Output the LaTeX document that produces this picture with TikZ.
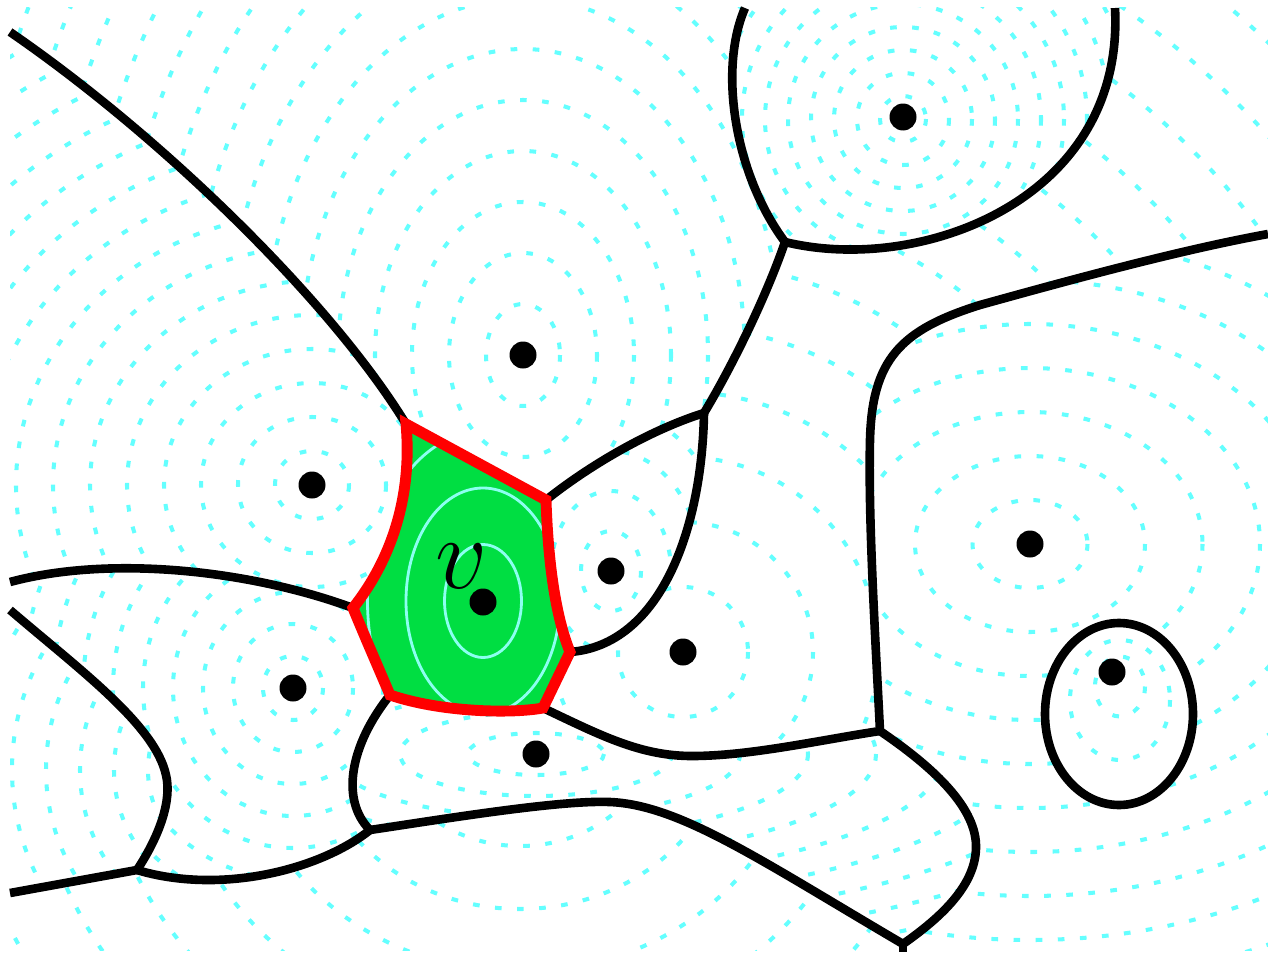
\documentclass[tikz,border=0pt]{standalone}
\definecolor{ringcyan}{RGB}{100,255,255}
\definecolor{vringcol}{RGB}{140,255,240}
\definecolor{cellgreen}{RGB}{0,222,66}
\tikzset{
  dashring/.style={ringcyan, line width=2.3pt, dash pattern=on 3.8pt off 8.8pt},
  vring/.style={vringcol, line width=1.6pt},
  bd/.style={black, line width=4.9pt, line join=round},
  rd/.style={red, line width=6.2pt, line join=miter},
  dot/.style={circle, fill=black, inner sep=0pt, minimum size=0.54cm},
}
\begin{document}
\begin{tikzpicture}[x=0.02cm,y=-0.02cm]
\useasboundingbox (0,0) rectangle (1268,957);
% vertices
\coordinate (A) at (406,424);
\coordinate (B) at (546,500);
\coordinate (C) at (570,652);
\coordinate (D) at (543,708);
\coordinate (E) at (390,695);
\coordinate (F) at (353,608);
\coordinate (G) at (704,413);
\coordinate (H) at (785,242);
\coordinate (I) at (880,731);
\coordinate (J) at (370,830);
\coordinate (K) at (137,870);
\coordinate (M) at (903,944);
\coordinate (P1) at (10,32);
\coordinate (T1) at (745,8);
\coordinate (T2) at (1115,8);
\coordinate (R1) at (1268,234);
\coordinate (L1) at (10,582);
\coordinate (L2) at (10,610);
\coordinate (L3) at (10,893);
\coordinate (Mb) at (903,952);

% ---------- level-set rings, each clipped to its cell ----------
\begin{scope}
\clip (10,7) rectangle (1268,950);
 % site (523,355)
 \begin{scope}
  \clip (P1) .. controls (160,135) and (330,300) .. (A) -- (B) .. controls (590,465) and (650,430) .. (G) .. controls (730,370) and (765,300) .. (H) .. controls (735,175) and (718,70) .. (T1) -- (745,-60) -- (-60,-60) -- (-60,32) -- cycle;
  \foreach \k in {1,...,16} \draw[dashring] (523,355) ellipse ({37*\k} and {51*\k});
 \end{scope}
 % site (312,485)
 \begin{scope}
  \clip (P1) .. controls (160,135) and (330,300) .. (A) .. controls (412,490) and (395,555) .. (F) .. controls (250,570) and (110,555) .. (L1) -- (-60,582) -- (-60,32) -- cycle;
  \foreach \k in {1,...,16} \draw[dashring] (312,485) ellipse ({37*\k} and {34*\k});
 \end{scope}
 % site (903,117)
 \begin{scope}
  \clip (H) .. controls (735,175) and (718,70) .. (T1) -- (745,-60) -- (1115,-60) -- (T2) .. controls (1125,200) and (920,275) .. (H) -- cycle;
  \foreach \k in {1,...,11} \draw[dashring] (903,119) circle ({23*\k});
 \end{scope}
 % site (611,571)
 \begin{scope}
  \clip (B) .. controls (590,465) and (650,430) .. (G) .. controls (702,530) and (660,645) .. (C) .. controls (555,615) and (548,560) .. (B) -- cycle;
  \foreach \k in {1,...,6} \draw[dashring] (611,571) ellipse ({30*\k} and {40*\k});
 \end{scope}
 % site (683,652)
 \begin{scope}
  \clip (G) .. controls (730,370) and (765,300) .. (H) .. controls (920,275) and (1125,200) .. (T2) -- (1115,-60) -- (1330,-60) -- (1330,234) -- (R1) .. controls (1180,250) and (1070,280) .. (980,305) .. controls (900,330) and (872,360) .. (870,440) .. controls (868,520) and (876,650) .. (I) .. controls (820,740) and (750,756) .. (692,756) .. controls (640,756) and (600,735) .. (D) -- (C) .. controls (660,645) and (702,530) .. (G) -- cycle;
  \foreach \k in {1,...,14} \draw[dashring] (683,652) circle ({65*\k});
 \end{scope}
 % site (1030,544)
 \begin{scope}
  \clip (R1) -- (1330,234) -- (1330,1010) -- (903,1010) -- (M) .. controls (940,918) and (977,885) .. (976,845) .. controls (975,805) and (930,765) .. (I) .. controls (876,650) and (868,520) .. (870,440) .. controls (872,360) and (900,330) .. (980,305) .. controls (1070,280) and (1180,250) .. (R1) -- cycle;
  \foreach \k in {1,...,11} \draw[dashring] (1030,544) ellipse ({57.5*\k} and {44*\k});
 \end{scope}
 % site (1112,672)
 \fill[white] (1119,714) ellipse (74 and 91);
 \begin{scope}
  \clip (1119,714) ellipse (74 and 91);
  \foreach \k in {1,...,3} \draw[dashring] (1120,{673+13.5*\k}) ellipse ({25*\k} and {30*\k});
 \end{scope}
 % site (293,688)
 \begin{scope}
  \clip (F) .. controls (250,570) and (110,555) .. (L1) -- (-60,582) -- (-60,610) -- (L2) .. controls (80,670) and (155,725) .. (166,775) .. controls (172,800) and (160,835) .. (K) .. controls (220,895) and (320,870) .. (J) .. controls (340,800) and (350,745) .. (E) .. controls (375,660) and (362,630) .. (F) -- cycle;
  \foreach \k in {1,...,12} \draw[dashring] (293,688) ellipse ({30*\k} and {32*\k});
 \end{scope}
 % empty lower-left region
 \begin{scope}
  \clip (L2) .. controls (80,670) and (155,725) .. (166,775) .. controls (172,800) and (160,835) .. (K) -- (L3) -- (-60,893) -- (-60,610) -- cycle;
  \foreach \k in {1,...,12} \draw[dashring] (250,770) circle ({34*\k});
 \end{scope}
 % site (536,754)
 \begin{scope}
  \clip (D) .. controls (600,735) and (640,756) .. (692,756) .. controls (750,756) and (820,740) .. (I) .. controls (930,765) and (975,805) .. (976,845) .. controls (977,885) and (940,918) .. (M) .. controls (760,860) and (680,805) .. (610,802) .. controls (560,800) and (450,818) .. (J) .. controls (340,800) and (350,745) .. (E) .. controls (440,712) and (510,714) .. (D) -- cycle;
  \foreach \k in {1,...,11} \draw[dashring] (536,754) ellipse ({68*\k} and {21*\k});
 \end{scope}
 % empty bottom region
 \begin{scope}
  \clip (M) -- (903,1010) -- (-60,1010) -- (-60,893) -- (L3) -- (K) .. controls (220,895) and (320,870) .. (J) .. controls (450,818) and (560,800) .. (610,802) .. controls (680,805) and (760,860) .. (M) -- cycle;
  \foreach \k in {1,...,12} \draw[dashring] (520,720) ellipse ({70*\k} and {63*\k});
 \end{scope}
\end{scope}

% ---------- the cell of v ----------
\fill[cellgreen] (A) -- (B) .. controls (548,560) and (555,615) .. (C) -- (D) .. controls (510,714) and (440,712) .. (E) .. controls (375,660) and (362,630) .. (F) .. controls (395,555) and (412,490) .. (A) -- cycle;
\begin{scope}
 \clip (A) -- (B) .. controls (548,560) and (555,615) .. (C) -- (D) .. controls (510,714) and (440,712) .. (E) .. controls (375,660) and (362,630) .. (F) .. controls (395,555) and (412,490) .. (A) -- cycle;
 \foreach \k in {1,...,4} \draw[vring] (483,601) ellipse ({38.5*\k} and {56.5*\k});
\end{scope}

% ---------- boundaries ----------
\draw[bd] (P1) .. controls (160,135) and (330,300) .. (A);
\draw[bd] (B) .. controls (590,465) and (650,430) .. (G);
\draw[bd] (G) .. controls (730,370) and (765,300) .. (H);
\draw[bd] (H) .. controls (735,175) and (718,70) .. (T1);
\draw[bd] (H) .. controls (920,275) and (1125,200) .. (T2);
\draw[bd] (G) .. controls (702,530) and (660,645) .. (C);
\draw[bd] (D) .. controls (600,735) and (640,756) .. (692,756) .. controls (750,756) and (820,740) .. (I);
\draw[bd] (I) .. controls (876,650) and (868,520) .. (870,440) .. controls (872,360) and (900,330) .. (980,305) .. controls (1070,280) and (1180,250) .. (R1);
\draw[bd] (I) .. controls (930,765) and (975,805) .. (976,845) .. controls (977,885) and (940,918) .. (M);
\draw[bd] (M) -- (Mb);
\draw[bd] (F) .. controls (250,570) and (110,555) .. (L1);
\draw[bd] (E) .. controls (350,745) and (340,800) .. (J);
\draw[bd] (J) .. controls (450,818) and (560,800) .. (610,802) .. controls (680,805) and (760,860) .. (M);
\draw[bd] (J) .. controls (320,870) and (220,895) .. (K);
\draw[bd] (K) -- (L3);
\draw[bd] (K) .. controls (160,835) and (172,800) .. (166,775) .. controls (155,725) and (80,670) .. (L2);
\draw[bd] (1119,714) ellipse (74 and 91);

\draw[rd] (A) -- (B) .. controls (548,560) and (555,615) .. (C) -- (D) .. controls (510,714) and (440,712) .. (E) .. controls (375,660) and (362,630) .. (F) .. controls (395,555) and (412,490) .. (A) -- cycle;

% ---------- sites ----------
\node[dot] (s1) at (903,117) {};
\node[dot] (s2) at (523,355) {};
\node[dot] (s3) at (312,485) {};
\node[dot] (sv) at (483,602) {};
\node[dot] (s5) at (611,571) {};
\node[dot] (s6) at (683,652) {};
\node[dot] (s7) at (293,688) {};
\node[dot] (s8) at (536,754) {};
\node[dot] (s9) at (1030,544) {};
\node[dot] (s10) at (1112,672) {};
\node[font=\Huge, scale=2.35, transform shape, inner sep=0pt] (vlabel) at (462,566) {$v$};
\end{tikzpicture}
\end{document}
